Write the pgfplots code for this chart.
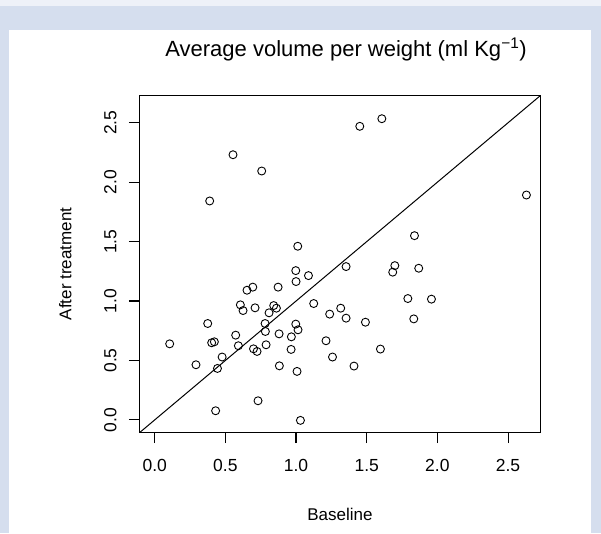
\documentclass[border=0pt]{standalone}
\usepackage{fontspec}
\setmainfont{Liberation Sans}
\usepackage{pgfplots}
\pgfplotsset{compat=1.18}
\definecolor{panelblue}{RGB}{213,222,238}
\definecolor{topstrip}{RGB}{238,241,248}

\begin{document}
\begin{tikzpicture}
% page frame: pale blue border round a white panel
\useasboundingbox (-139.3pt,-100.5pt) rectangle (461.7pt,432.5pt);
\fill[panelblue] (-139.3pt,-100.5pt) rectangle (461.7pt,432.5pt);
\fill[topstrip] (-139.3pt,426.5pt) rectangle (461.7pt,432.5pt);
\fill[white] (-130pt,-100.5pt) rectangle (451.4pt,402.5pt);

\begin{axis}[
    at={(0pt,0pt)}, anchor=south west,
    scale only axis,
    width=401.4pt, height=337.2pt,
    xmin=-0.109, xmax=2.731,
    ymin=-0.106, ymax=2.731,
    axis line style={black, line width=1.2pt},
    tick align=outside,
    xtick pos=bottom, ytick pos=left,
    major tick length=10.5pt,
    tick style={black, line width=1.1pt},
    xtick={0,0.5,1,1.5,2,2.5},
    ytick={0,0.5,1,1.5,2,2.5},
    xticklabels={0.0,0.5,1.0,1.5,2.0,2.5},
    yticklabels={0.0,0.5,1.0,1.5,2.0,2.5},
    ticklabel style={font=\fontsize{17.5}{20}\selectfont, inner sep=0pt},
    xticklabel style={anchor=north},
    xticklabel shift=16pt,
    yticklabel style={rotate=90, anchor=south},
    yticklabel shift=12pt,
    xlabel={Baseline},
    ylabel={After treatment},
    label style={font=\fontsize{17}{20}\selectfont, inner sep=0pt},
    xlabel style={at={([yshift=-75pt]rel axis cs:0.5,0)}, anchor=north},
    ylabel style={at={([xshift=-67.6pt]rel axis cs:0,0.5)}, anchor=south},
    title={Average volume per weight (ml Kg\textsuperscript{−1})},
    title style={font=\fontsize{22}{26}\selectfont, at={([yshift=33pt]axis description cs:0.515,1)}, anchor=base, inner sep=0pt},
    clip=true,
]
% line of identity
\addplot[black, line width=1pt] coordinates {(-0.2,-0.2) (2.9,2.9)};
\addplot[only marks, mark=o, mark size=4pt, mark options={black, line width=0.9pt}] coordinates {
(0.554,2.231) (0.757,2.094) (0.389,1.842) (1.012,1.461)
(1.451,2.470) (1.607,2.534) (2.630,1.892) (1.838,1.550)
(0.998,1.256) (1.088,1.214) (1.000,1.164) (0.694,1.117)
(0.653,1.091) (0.873,1.117) (1.125,0.979) (0.606,0.968)
(0.625,0.920) (0.710,0.943) (0.842,0.962) (0.861,0.940)
(0.809,0.901) (1.238,0.890) (1.316,0.940) (0.375,0.811)
(0.781,0.811) (0.998,0.806) (1.014,0.758) (0.783,0.744)
(0.573,0.713) (0.880,0.724) (0.967,0.699) (0.106,0.640)
(0.403,0.649) (0.422,0.657) (0.592,0.624) (0.788,0.632)
(0.699,0.598) (0.724,0.576) (0.965,0.593) (1.212,0.666)
(1.258,0.529) (0.477,0.529) (0.292,0.464) (0.444,0.433)
(0.882,0.455) (1.007,0.408) (0.731,0.161) (0.431,0.077)
(1.031,-0.004) (1.354,1.290) (1.699,1.298) (1.684,1.243)
(1.868,1.276) (1.791,1.021) (1.958,1.016) (1.833,0.850)
(1.354,0.856) (1.491,0.822) (1.597,0.596) (1.410,0.453)
};
\end{axis}
\end{tikzpicture}
\end{document}
